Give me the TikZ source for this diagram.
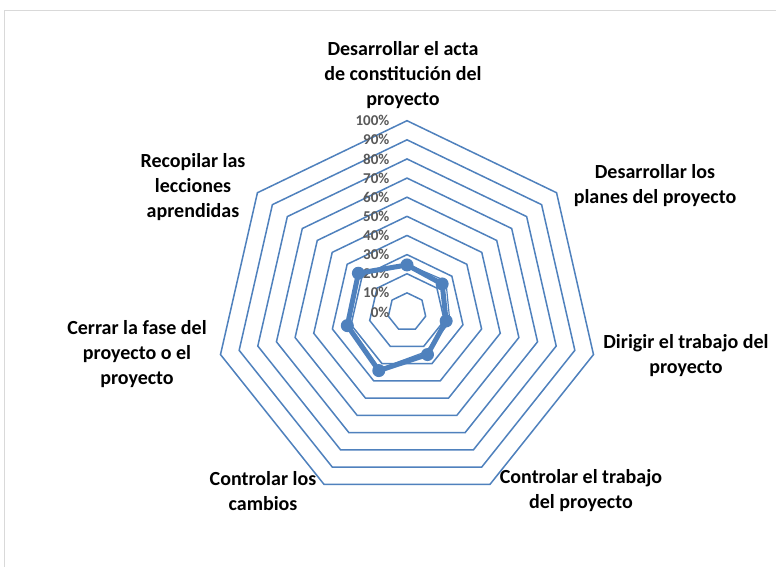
\documentclass[tikz,border=0pt]{standalone}
\usepackage{fontspec}
\setmainfont{Carlito}
\usetikzlibrary{positioning}
\definecolor{chartblue}{HTML}{4F81BD}
\definecolor{tickgray}{HTML}{595959}
\definecolor{framegray}{HTML}{D9D9D9}
\tikzset{
    ring/.style={
           draw=chartblue,
           line width=1.5pt,
           line join=miter,
           },
    serie/.style={
           draw=chartblue,
           line width=5pt,
           line join=round,
           },
    thinserie/.style={
           draw=chartblue,
           line width=1.2pt,
           },
    dot/.style={
           circle,
           fill=chartblue,
           inner sep=0pt,
           minimum size=13pt,
           },
    axislabel/.style={
           font=\fontsize{20}{25}\selectfont\bfseries,
           align=center,
           inner sep=0pt,
           },
    ticklabel/.style={
           font=\fontsize{15}{17}\selectfont\bfseries,
           text=tickgray,
           anchor=east,
           inner sep=0pt,
           },
}

\begin{document}
\begin{tikzpicture}[x=1pt, y=1pt]
	\useasboundingbox (-407,-255) rectangle (369,312);
	\fill[white] (-407,-255) rectangle (369,312);
	\draw[framegray, line width=1pt] (-402,-255) |- (369,301);

	% rings 10% .. 100%
	\foreach \r in {1,...,10}
		\draw[ring] (90:19.13*\r) \foreach \k in {1,...,6} { -- (90-\k*360/7:19.13*\r) } -- cycle;

	% scale
	\foreach \r in {0,...,10} {
		\pgfmathtruncatemacro{\pct}{10*\r}
		\node[ticklabel] (tick\r) at (-17.5, 19.13*\r) {\pct\%};
	}

	% axis names
	\node[axislabel] (acta) at (-4, 237) {Desarrollar el acta\\de constitución del\\proyecto};
	\node[axislabel] (planes) at (248, 126) {Desarrollar los\\planes del proyecto};
	\node[axislabel] (dirigir) at (279, -44) {Dirigir el trabajo del\\proyecto};
	\node[axislabel] (controlar) at (174, -179) {Controlar el trabajo\\del proyecto};
	\node[axislabel] (cambios) at (-144, -179) {Controlar los\\cambios};
	\node[axislabel] (cerrar) at (-270, -42) {Cerrar la fase del\\proyecto o el\\proyecto};
	\node[axislabel] (lecciones) at (-214, 125) {Recopilar las\\lecciones\\aprendidas};

	% data
	\foreach \v [count=\k from 0] in {25,26,23,23,33,31,33}
		\coordinate (q\k) at (90-\k*360/7:1.913*\v);
	\foreach \v [count=\k from 0] in {24.6,23.5,21,24.7,34,32,32.5}
		\coordinate (p\k) at (90-\k*360/7:1.913*\v);

	\draw[thinserie] (q0) -- (q1) -- (q2) -- (q3) -- (q4) -- (q5) -- (q6) -- cycle;
	\draw[serie] (p0) -- (p1) -- (p2) -- (p3) -- (p4) -- (p5) -- (p6) -- cycle;
	\foreach \k in {0,...,6}
		\node[dot] (m\k) at (p\k) {};
\end{tikzpicture}
\end{document}
